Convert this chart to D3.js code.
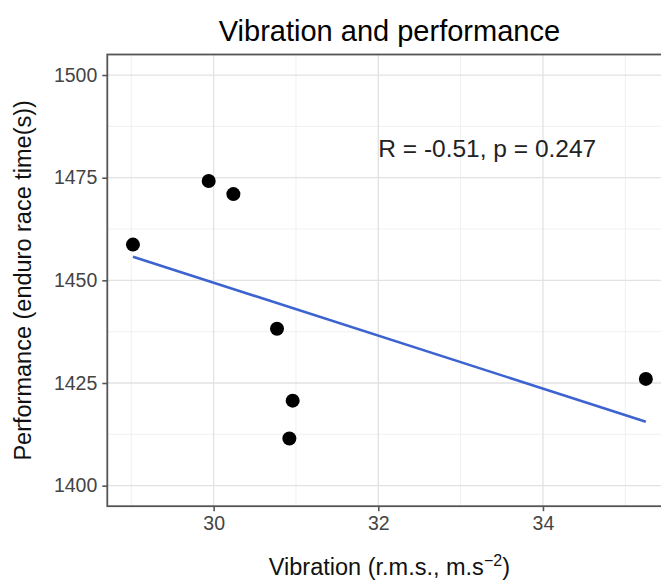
<!DOCTYPE html>
<html>
<head>
<meta charset="utf-8">
<script src="https://cdn.jsdelivr.net/npm/d3@7"></script>
<style>
  body { margin: 0; background: #fff; }
  svg { display: block; font-family: 'Liberation Sans', Arial, sans-serif; }
</style>
</head>
<body>
<div id="chart"></div>
<script>
// values
const vibration = [29.02, 29.94, 30.24, 30.77, 30.96, 30.92, 35.25]
const performance = [1458.7, 1474.2, 1471.0, 1438.2, 1420.7, 1411.5, 1426.0]
const xTicks = [30, 32, 34]
const yTicks = [1400, 1425, 1450, 1475, 1500]
const yLimits = [1400, 1500]
const corLabel = 'R = -0.51, p = 0.247'
const corLabelPos = { x: 32, y: 1480 }

const width = 661
const height = 583
const panel = { left: 107.3, right: 671.5, top: 54.5, bottom: 506.2 }

function expand(ext, mult) {
  const pad = (ext[1] - ext[0]) * mult
  return [ext[0] - pad, ext[1] + pad]
}

function drawChart(container) {
  const data = vibration.map((v, i) => ({ x: v, y: performance[i] }))

  const x = d3.scaleLinear()
    .domain(expand(d3.extent(vibration), 0.05))
    .range([panel.left, panel.right])

  const y = d3.scaleLinear()
    .domain(expand(yLimits, 0.05))
    .range([panel.bottom, panel.top])

  // least squares fit, like geom_smooth(method = 'lm')
  const mx = d3.mean(vibration)
  const my = d3.mean(performance)
  const sxy = d3.sum(data, d => (d.x - mx) * (d.y - my))
  const sxx = d3.sum(data, d => (d.x - mx) ** 2)
  const slope = sxy / sxx
  const fit = d3.extent(vibration).map(v => ({ x: v, y: my + slope * (v - mx) }))

  const svg = container.append('svg')
    .attr('width', width)
    .attr('height', height)

  svg.append('defs').append('clipPath').attr('id', 'clip')
    .append('rect')
    .attr('x', panel.left).attr('y', panel.top)
    .attr('width', panel.right - panel.left)
    .attr('height', panel.bottom - panel.top)

  const grid = svg.append('g').attr('clip-path', 'url(#clip)')

  // minor grid
  const xMinor = xTicks.map(t => t - 1).concat([xTicks[xTicks.length - 1] + 1])
  const yMinor = yTicks.slice(1).map(t => t - 12.5)
  grid.selectAll('.xminor').data(xMinor).enter().append('line')
    .attr('x1', d => x(d)).attr('x2', d => x(d))
    .attr('y1', panel.top).attr('y2', panel.bottom)
    .attr('stroke', '#eeeeee').attr('stroke-width', 0.9)
  grid.selectAll('.yminor').data(yMinor).enter().append('line')
    .attr('y1', d => y(d)).attr('y2', d => y(d))
    .attr('x1', panel.left).attr('x2', panel.right)
    .attr('stroke', '#eeeeee').attr('stroke-width', 0.9)

  // major grid
  grid.selectAll('.xmajor').data(xTicks).enter().append('line')
    .attr('x1', d => x(d)).attr('x2', d => x(d))
    .attr('y1', panel.top).attr('y2', panel.bottom)
    .attr('stroke', '#e2e2e2').attr('stroke-width', 1.3)
  grid.selectAll('.ymajor').data(yTicks).enter().append('line')
    .attr('y1', d => y(d)).attr('y2', d => y(d))
    .attr('x1', panel.left).attr('x2', panel.right)
    .attr('stroke', '#e2e2e2').attr('stroke-width', 1.3)

  const plot = svg.append('g').attr('clip-path', 'url(#clip)')

  plot.append('path')
    .datum(fit)
    .attr('fill', 'none')
    .attr('stroke', '#3c63d0')
    .attr('stroke-width', 2.6)
    .attr('d', d3.line().x(d => x(d.x)).y(d => y(d.y)))

  plot.selectAll('circle').data(data).enter().append('circle')
    .attr('cx', d => x(d.x))
    .attr('cy', d => y(d.y))
    .attr('r', 7)
    .attr('fill', '#000')

  // panel border
  svg.append('rect')
    .attr('x', panel.left).attr('y', panel.top)
    .attr('width', panel.right - panel.left)
    .attr('height', panel.bottom - panel.top)
    .attr('fill', 'none')
    .attr('stroke', '#555')
    .attr('stroke-width', 1.8)

  // axes
  const xAxis = svg.append('g')
    .attr('transform', 'translate(0,' + panel.bottom + ')')
    .call(d3.axisBottom(x).tickValues(xTicks).tickFormat(d3.format('d')).tickSize(5).tickPadding(5))
  const yAxis = svg.append('g')
    .attr('transform', 'translate(' + panel.left + ',0)')
    .call(d3.axisLeft(y).tickValues(yTicks).tickFormat(d3.format('d')).tickSize(5).tickPadding(5))

  ;[xAxis, yAxis].forEach(a => {
    a.select('.domain').remove()
    a.selectAll('.tick line').attr('stroke', '#555').attr('stroke-width', 1.6)
    a.selectAll('.tick text')
      .attr('fill', '#444')
      .style('font-size', '19.5px')
      .style('font-family', "'Liberation Sans', Arial, sans-serif")
  })

  // correlation label
  svg.append('text')
    .attr('x', x(corLabelPos.x))
    .attr('y', y(corLabelPos.y))
    .attr('fill', '#222')
    .style('font-size', '24.5px')
    .text(corLabel)

  // titles
  const cx = (panel.left + panel.right) / 2
  svg.append('text')
    .attr('x', cx).attr('y', 41)
    .attr('text-anchor', 'middle')
    .attr('fill', '#000')
    .style('font-size', '29px')
    .text('Vibration and performance')

  const xt = svg.append('text')
    .attr('x', cx).attr('y', 575)
    .attr('text-anchor', 'middle')
    .attr('fill', '#111')
    .style('font-size', '23.5px')
  xt.append('tspan').text('Vibration (r.m.s., m.s')
  xt.append('tspan').attr('dy', -9).style('font-size', '16px').text('−2')
  xt.append('tspan').attr('dy', 9).text(')')

  svg.append('text')
    .attr('transform', 'translate(31,' + (panel.top + panel.bottom) / 2 + ') rotate(-90)')
    .attr('text-anchor', 'middle')
    .attr('fill', '#111')
    .style('font-size', '23.5px')
    .text('Performance (enduro race time(s))')
}

drawChart(d3.select('#chart'))
</script>
</body>
</html>
